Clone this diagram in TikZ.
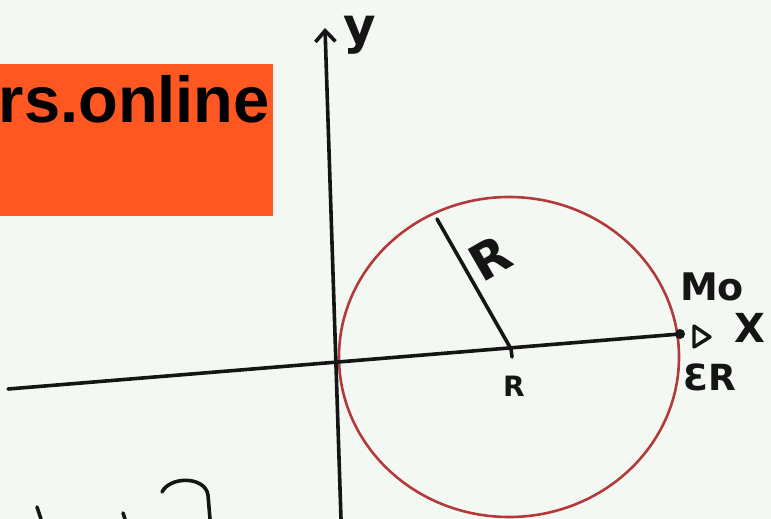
\documentclass[tikz,border=0pt]{standalone}
\usepackage{fontspec}
\setmainfont{Liberation Sans}
\newfontfamily\handfont{DejaVu Sans}
\usetikzlibrary{arrows.meta}
\definecolor{paper}{HTML}{F4F8F2}
\definecolor{banner}{HTML}{FF5722}
\definecolor{rim}{HTML}{B23A3A}
\definecolor{ink}{HTML}{151515}

\begin{document}
\begin{tikzpicture}[x=1pt, y=-1pt,
	stroke/.style={draw=ink, line width=3.6pt, line cap=round},
	hand/.style={text=ink, inner sep=0pt, font=\handfont\bfseries\fontsize{#1}{#1}\selectfont}]
	\fill[paper] (0,0) rectangle (771,519);
	\useasboundingbox (0,0) rectangle (771,519);

	\fill[banner] (0,64) rectangle (273,216);
	\node[anchor=base east, inner sep=0pt, font=\bfseries\fontsize{65}{70}\selectfont] (site) at (270,122) {rs.online};

	\coordinate (xl) at (8,389);
	\coordinate (m0) at (680,334);
	\coordinate (yb) at (341,519);
	\coordinate (yt) at (325,28);
	\coordinate (ctr) at (511,349);
	\coordinate (top) at (437,219);

	\draw[rim, line width=2.6pt] (509,357) ellipse [x radius=170, y radius=160];
	\draw[stroke] (xl) -- (m0);
	\draw[stroke, -{Straight Barb[length=11pt, width=20pt]}] (yb) -- (yt);
	\draw[stroke] (top) -- (ctr) -- ++(1,8);

	\fill[ink] (m0) circle (5);
	\draw[stroke, line width=3.4pt, line join=round] ([shift={(14,-8)}]m0) -- ([shift={(30,3)}]m0) -- ([shift={(14,13)}]m0) -- cycle;

	\node[hand=50] (ylab) at (360,35) {y};
	\node[hand=50, rotate=30] (rlab) at (490,258) {R};
	\node[hand=28] (rtick) at (514,386) {R};
	\node[hand=38] (m0lab) at (712,287) {Mo};
	\node[hand=40] (xlab) at (750,328) {X};
	\node[hand=36] (twor) at (710,377) {ƐR};

	\draw[stroke] (37,507) -- (41,519);
	\draw[stroke] (123,513) -- (125,519);
	\draw[stroke] (162,492) .. controls (170,476) and (205,476) .. (208,495) -- (210,519);
\end{tikzpicture}
\end{document}
